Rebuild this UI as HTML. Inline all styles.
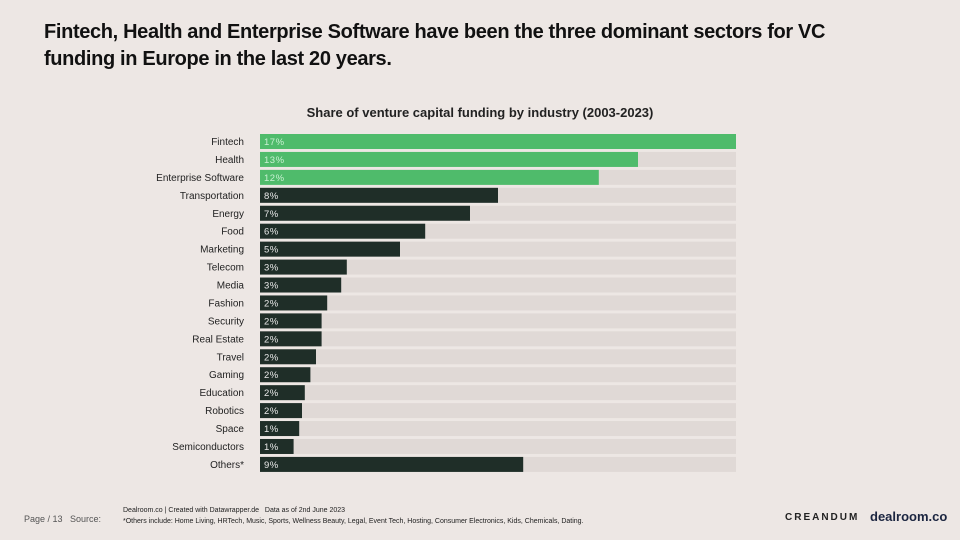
<!DOCTYPE html>
<html><head><meta charset="utf-8"><style>
body{margin:0;width:960px;height:540px;background:#ede7e4;font-family:"Liberation Sans",sans-serif;overflow:hidden;position:relative}
#title{position:absolute;left:44px;top:19px;font-size:20px;font-weight:bold;color:#111;line-height:27px;letter-spacing:-0.35px}
#sub{position:absolute;left:0;width:960px;text-align:center;top:105px;font-size:13px;font-weight:bold;color:#222}
.ft{position:absolute;font-size:7px;color:#222}
</style></head><body>
<div id="title">Fintech, Health and Enterprise Software have been the three dominant sectors for VC<br>funding in Europe in the last 20 years.</div>
<div id="sub">Share of venture capital funding by industry (2003-2023)</div>
<svg id="chart" width="960" height="540" style="position:absolute;left:0;top:0"></svg>
<div class="ft" style="left:123px;top:507px">Dealroom.co | Created with Datawrapper.de &nbsp; Data as of 2nd June 2023</div>
<div class="ft" style="left:123px;top:518px">*Others include: Home Living, HRTech, Music, Sports, Wellness Beauty, Legal, Event Tech, Hosting, Consumer Electronics, Kids, Chemicals, Dating.</div>
<div class="ft" style="left:24px;top:514px;font-size:9px;color:#555">Page / 13 &nbsp; Source:</div>
<div style="position:absolute;left:785px;top:512px;font-size:10px;font-weight:bold;letter-spacing:2px;color:#222">CREANDUM</div>
<div style="position:absolute;left:870px;top:509px;font-size:13px;font-weight:bold;color:#1b2540">dealroom.co</div>
<script>
const categories=["Fintech","Health","Enterprise Software","Transportation","Energy","Food","Marketing","Telecom","Media","Fashion","Security","Real Estate","Travel","Gaming","Education","Robotics","Space","Semiconductors","Others*"];
const values=[17,13.5,12.1,8.5,7.5,5.9,5.0,3.1,2.9,2.4,2.2,2.2,2.0,1.8,1.6,1.5,1.4,1.2,9.4];
const valueLabels=["17%","13%","12%","8%","7%","6%","5%","3%","3%","2%","2%","2%","2%","2%","2%","2%","1%","1%","9%"];
const highlighted=[true,true,true,false,false,false,false,false,false,false,false,false,false,false,false,false,false,false,false];
const svg=document.getElementById('chart');const NS="http://www.w3.org/2000/svg";
const x0=260,W=476,y0=134,step=17.94,bh=15;
const maxV=Math.max(...values);
const xs=v=>v/maxV*W;
const ys=i=>y0+i*step;
function mk(t,a){const e=document.createElementNS(NS,t);for(const k in a)e.setAttribute(k,a[k]);svg.appendChild(e);return e;}
categories.forEach((c,i)=>{
 const tr=mk('rect',{x:x0,y:ys(i),width:W,height:bh,fill:'#e0d9d6'});
 
 
 const b=mk('rect',{x:x0,y:ys(i),width:xs(values[i]),height:bh,fill:highlighted[i]?'#4fbb6b':'#1f2e28'});
 
 
 const l=mk('text',{x:244,y:ys(i)+bh/2+3.5,'text-anchor':'end','font-size':'10','fill':'#222','font-family':'Liberation Sans, sans-serif'});
 l.textContent=c;
 
 
 const v=mk('text',{x:x0+4,y:ys(i)+bh/2+3.5,'font-size':'9.5','fill':highlighted[i]?'#c9f0d2':'#e8e8e8','font-family':'Liberation Sans, sans-serif','letter-spacing':'0.5'});
 v.textContent=valueLabels[i];
 
 
});
</script>
</body></html>
